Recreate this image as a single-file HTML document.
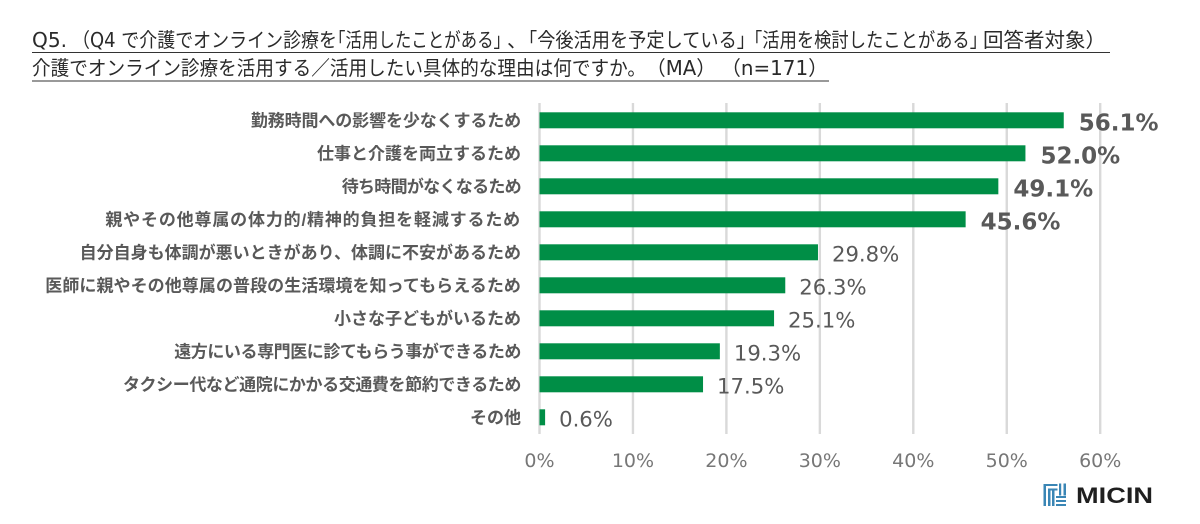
<!DOCTYPE html>
<html lang="ja">
<head>
<meta charset="utf-8">
<title>Q5 chart</title>
<style>
html,body{margin:0;padding:0;background:#fff;width:1200px;height:524px;overflow:hidden}
svg{display:block}
.title{font-family:"DejaVu Sans","Noto Sans CJK JP",sans-serif;font-size:20px;fill:#2a2a2a}
.cat{font-family:"Liberation Sans","Noto Sans CJK JP",sans-serif;font-size:17px;font-weight:700;fill:#595959;text-anchor:end}
#cat-labels text:nth-child(1){letter-spacing:-.12px}
#cat-labels text:nth-child(3){letter-spacing:-.7px}
#cat-labels text:nth-child(4){letter-spacing:.83px}
#cat-labels text:nth-child(6){letter-spacing:.07px}
#cat-labels text:nth-child(8){letter-spacing:-.43px}
#cat-labels text:nth-child(9){letter-spacing:-.4px}
.val{font-family:"DejaVu Sans","Noto Sans CJK JP",sans-serif;font-size:21.2px;fill:#595959}
.val.big{font-size:23px;font-weight:700}
.tick{font-family:"DejaVu Sans",sans-serif;font-size:19px;fill:#777;text-anchor:middle}
</style>
</head>
<body>
<svg id="chart" width="1200" height="524" viewBox="0 0 1200 524" xmlns="http://www.w3.org/2000/svg">
  <g>
    <text class="title" x="32" y="47" textLength="35" lengthAdjust="spacingAndGlyphs">Q5.</text>
    <text class="title" x="72" y="47" textLength="265" lengthAdjust="spacingAndGlyphs">（Q4 で介護でオンライン診療を</text>
    <text class="title" x="329" y="47" textLength="181" lengthAdjust="spacingAndGlyphs">「活用したことがある」</text>
    <text class="title" x="507" y="47">、</text>
    <text class="title" x="519" y="47" textLength="236" lengthAdjust="spacingAndGlyphs">「今後活用を予定している」</text>
    <text class="title" x="745" y="47" textLength="242" lengthAdjust="spacingAndGlyphs">「活用を検討したことがある」</text>
    <text class="title" x="983" y="47" textLength="123" lengthAdjust="spacingAndGlyphs">回答者対象）</text>
  </g>
  <line x1="32" y1="52.5" x2="1110" y2="52.5" stroke="#333" stroke-width="1"/>
  <g>
    <text class="title" x="32" y="75" textLength="614" lengthAdjust="spacingAndGlyphs">介護でオンライン診療を活用する／活用したい具体的な理由は何ですか。</text>
    <text class="title" x="646" y="75" textLength="70" lengthAdjust="spacingAndGlyphs">（MA）</text>
    <text class="title" x="721" y="75" textLength="107" lengthAdjust="spacingAndGlyphs">（n=171）</text>
  </g>
  <line x1="32" y1="81" x2="829" y2="81" stroke="#333" stroke-width="1"/>
  <g id="grid"></g>
  <g id="bars"></g>
  <g id="cat-labels"></g>
  <g id="labels"></g>
  <g id="ticks"></g>
  <g id="micin-logo">
    <g fill="#3a86b5">
      <rect x="1043.5" y="484" width="2.5" height="22"/>
      <rect x="1048" y="489" width="2.5" height="17"/>
      <rect x="1052" y="489" width="2.5" height="17"/>
      <rect x="1043.5" y="484" width="14" height="2"/>
      <rect x="1048" y="488.5" width="9.5" height="2"/>
      <rect x="1059" y="483.5" width="2.2" height="12"/>
      <rect x="1063.5" y="483.5" width="2.5" height="12"/>
      <rect x="1056" y="496" width="10" height="2"/>
      <rect x="1056" y="500" width="10" height="2"/>
      <rect x="1056" y="504" width="10" height="2"/>
    </g>
    <text x="1076" y="503" textLength="77" lengthAdjust="spacingAndGlyphs" font-family="'Liberation Sans',sans-serif" font-weight="700" font-size="22" fill="#1f1f1f">MICIN</text>
  </g>
</svg>
<script>
const categories = [
  "勤務時間への影響を少なくするため",
  "仕事と介護を両立するため",
  "待ち時間がなくなるため",
  "親やその他尊属の体力的/精神的負担を軽減するため",
  "自分自身も体調が悪いときがあり、体調に不安があるため",
  "医師に親やその他尊属の普段の生活環境を知ってもらえるため",
  "小さな子どもがいるため",
  "遠方にいる専門医に診てもらう事ができるため",
  "タクシー代など通院にかかる交通費を節約できるため",
  "その他"
];
const values = [56.1, 52.0, 49.1, 45.6, 29.8, 26.3, 25.1, 19.3, 17.5, 0.6];
const axisTicks = [0, 10, 20, 30, 40, 50, 60];
const emphasizedCount = 4;

const NS = "http://www.w3.org/2000/svg";
const xScale = v => 539.5 + v * 9.345;
const yScale = i => 120.3 + i * 33;
function make(tag, attrs, parent) {
  const el = document.createElementNS(NS, tag);
  for (const k in attrs) el.setAttribute(k, attrs[k]);
  parent.appendChild(el);
  return el;
}
const gridG = document.getElementById("grid");
const barsG = document.getElementById("bars");
const catsG = document.getElementById("cat-labels");
const labelsG = document.getElementById("labels");
const ticksG = document.getElementById("ticks");

axisTicks.forEach(t => {
  const line = make("line", {x1: xScale(t), x2: xScale(t), y1: 103, y2: 434, stroke: "#d9d9d9", "stroke-width": 2.4}, gridG);
  
  
  const label = make("text", {class: "tick", x: xScale(t), y: 467}, ticksG);
  label.textContent = t + "%";
  
  
});

categories.forEach((c, i) => {
  const v = values[i];
  const y = yScale(i);
  const cat = make("text", {class: "cat", x: 521, y: y + 6}, catsG);
  cat.textContent = c;
  
  
  const bar = make("rect", {x: xScale(0), y: y - 8, width: xScale(v) - xScale(0), height: 16, fill: "#008e46"}, barsG);
  
  
  const big = i < emphasizedCount;
  const val = make("text", {class: big ? "val big" : "val", x: xScale(v) + (big ? 15 : 14), y: y + (big ? 10 : 9)}, labelsG);
  val.textContent = v.toFixed(1) + "%";
  
  
});
</script>
</body>
</html>
